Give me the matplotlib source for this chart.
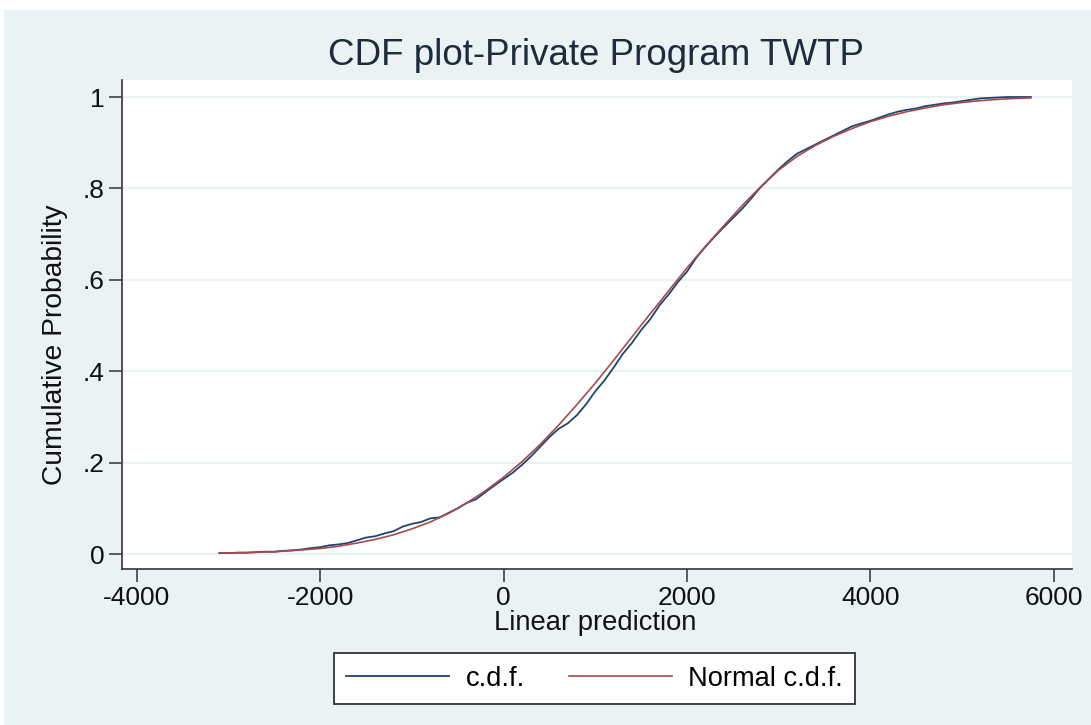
import matplotlib
matplotlib.use("Agg")
import matplotlib.pyplot as plt
from matplotlib.patches import Rectangle

plt.rcParams['font.family'] = ['Liberation Sans', 'DejaVu Sans']
plt.rcParams['axes.unicode_minus'] = False

# empirical c.d.f. of the linear prediction
cdf_x = [-3100, -3000, -2900, -2800, -2700, -2600, -2500, -2400, -2300, -2200,
         -2100, -2000, -1900, -1800, -1700, -1600, -1500, -1400, -1300, -1200,
         -1100, -1000, -900, -800, -700, -600, -500, -400, -300, -200,
         -100, 0, 100, 200, 300, 400, 500, 600, 700, 800,
         900, 1000, 1100, 1200, 1300, 1400, 1500, 1600, 1700, 1800,
         1900, 2000, 2100, 2200, 2300, 2400, 2500, 2600, 2700, 2800,
         2900, 3000, 3100, 3200, 3300, 3400, 3500, 3600, 3700, 3800,
         3900, 4000, 4100, 4200, 4300, 4400, 4500, 4600, 4700, 4800,
         4900, 5000, 5100, 5200, 5300, 5400, 5500, 5600, 5750]
cdf_y = [0.002, 0.002, 0.003, 0.003, 0.004, 0.005, 0.005, 0.007, 0.008, 0.010,
         0.013, 0.015, 0.019, 0.021, 0.024, 0.030, 0.036, 0.039, 0.045, 0.050,
         0.060, 0.066, 0.070, 0.078, 0.080, 0.090, 0.100, 0.112, 0.120, 0.135,
         0.150, 0.164, 0.178, 0.195, 0.214, 0.235, 0.256, 0.274, 0.286, 0.304,
         0.328, 0.356, 0.380, 0.408, 0.438, 0.462, 0.490, 0.514, 0.544, 0.568,
         0.595, 0.618, 0.648, 0.672, 0.694, 0.715, 0.735, 0.755, 0.778, 0.802,
         0.822, 0.842, 0.860, 0.876, 0.886, 0.896, 0.906, 0.916, 0.926, 0.936,
         0.942, 0.948, 0.955, 0.962, 0.968, 0.972, 0.975, 0.980, 0.983, 0.986,
         0.988, 0.991, 0.994, 0.997, 0.998, 0.999, 1.000, 1.000, 1.000]

# fitted normal c.d.f.
norm_x = [-3100, -2800, -2500, -2200, -2000, -1800, -1600, -1400, -1200, -1000,
          -800, -600, -400, -200, 0, 200, 400, 600, 800, 1000,
          1200, 1400, 1600, 1800, 2000, 2200, 2400, 2600, 2800, 3000,
          3200, 3400, 3600, 3800, 4000, 4200, 4400, 4600, 4800, 5000,
          5200, 5400, 5600, 5750]
norm_y = [0.002, 0.003, 0.005, 0.009, 0.012, 0.017, 0.024, 0.032, 0.042, 0.055,
          0.070, 0.089, 0.112, 0.138, 0.168, 0.202, 0.240, 0.282, 0.327, 0.374,
          0.424, 0.475, 0.526, 0.576, 0.626, 0.673, 0.718, 0.762, 0.803, 0.840,
          0.870, 0.894, 0.914, 0.931, 0.946, 0.958, 0.968, 0.976, 0.983, 0.988,
          0.992, 0.995, 0.997, 0.998]

x_ticks = [-4000, -2000, 0, 2000, 4000, 6000]
y_ticks = [0, 0.2, 0.4, 0.6, 0.8, 1]
y_tick_labels = ["0", ".2", ".4", ".6", ".8", "1"]

bg = '#eaf2f3'
W, H = 1091, 725

fig = plt.figure(figsize=(W / 100, H / 100), dpi=100)
fig.patch.set_facecolor('white')
fig.patches.append(Rectangle((4 / W, 0), 1, 1 - 10 / H, transform=fig.transFigure,
                             facecolor=bg, edgecolor='none', zorder=-5))

ax = fig.add_axes([122 / W, 1 - 569 / H, (1072 - 122) / W, (569 - 80) / H])
ax.set_facecolor('white')

for yt in y_ticks:
    ax.axhline(yt, color=bg, lw=1.6, zorder=1)

ax.plot(cdf_x, cdf_y, color='#1a476f', lw=1.3, label='c.d.f.', zorder=3)
ax.plot(norm_x, norm_y, color='#a84a4c', lw=1.2, label='Normal c.d.f.', zorder=4)

ax.set_xlim(-4162, 6199)
ax.set_ylim(-0.0328, 1.0372)
ax.set_xticks(x_ticks)
ax.set_yticks(y_ticks)
ax.set_yticklabels(y_tick_labels)
ax.tick_params(axis='both', direction='out', length=9.5, width=1.1, color='#333333',
               labelsize=19, labelcolor='#111111', pad=3)

for side in ['top', 'right']:
    ax.spines[side].set_visible(False)
for side in ['left', 'bottom']:
    ax.spines[side].set_color('#333333')
    ax.spines[side].set_linewidth(1.2)

fig.text(596 / W, 1 - 65 / H, "CDF plot-Private Program TWTP", ha='center',
         va='baseline', fontsize=26.5, color='#1e2b3a')
fig.text(595 / W, 1 - 630 / H, "Linear prediction", ha='center', va='baseline',
         fontsize=19.7, color='#111111')
fig.text(55 / W, 1 - 345 / H, "Cumulative Probability", ha='center', va='center',
         rotation=90, fontsize=20.3, color='#111111')

leg = fig.legend(loc='center', bbox_to_anchor=(594.5 / W, 1 - 678.5 / H), ncol=2,
                 fontsize=19.6, frameon=True, fancybox=False, handlelength=3.8,
                 handletextpad=0.6, columnspacing=1.6, borderpad=0.45)
leg.get_frame().set_edgecolor('#333333')
leg.get_frame().set_linewidth(1.3)
leg.get_frame().set_facecolor('white')
leg.get_frame().set_alpha(1)

fig.savefig('out.png', dpi=100, facecolor=fig.get_facecolor())
